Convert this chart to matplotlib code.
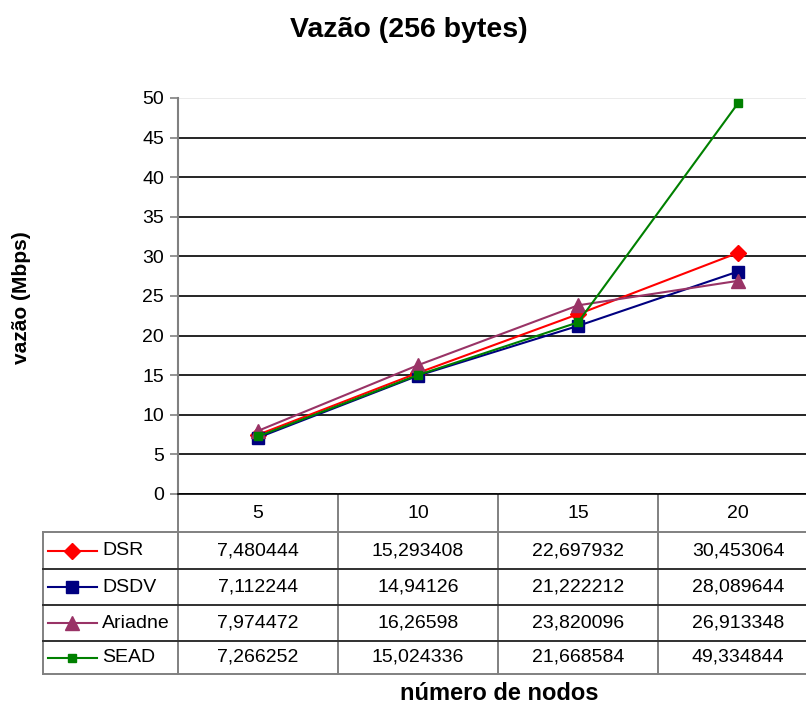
import matplotlib
matplotlib.use("Agg")
import matplotlib.pyplot as plt

plt.rcParams['font.family'] = ['Liberation Sans', 'DejaVu Sans']

nodos = [5, 10, 15, 20]
dsr = [7.480444, 15.293408, 22.697932, 30.453064]
dsdv = [7.112244, 14.94126, 21.222212, 28.089644]
ariadne = [7.974472, 16.26598, 23.820096, 26.913348]
sead = [7.266252, 15.024336, 21.668584, 49.334844]

series = [
    ("DSR", dsr, '#ff0000', 'D', 8),
    ("DSDV", dsdv, '#000080', 's', 8),
    ("Ariadne", ariadne, '#993366', '^', 9.5),
    ("SEAD", sead, '#008000', 's', 6),
]

W, H = 806, 706
fig = plt.figure(figsize=(W / 100, H / 100), dpi=100)
# plot area runs past the right edge of the figure, like the original sheet
ax = fig.add_axes([178 / W, (H - 494) / H, 640 / W, 396 / H])

xs = list(range(len(nodos)))
for name, vals, color, marker, ms in series:
    ax.plot(xs, vals, color=color, linewidth=1.5, marker=marker, markersize=ms,
            markerfacecolor=color, markeredgecolor=color, clip_on=False, zorder=3)

ax.set_xlim(-0.5, 3.5)
ax.set_ylim(0, 50)
ax.set_yticks(range(0, 51, 5))
ax.set_xticks([])
ax.tick_params(axis='y', direction='out', length=6, width=1.2, color='#808080',
               labelsize=14, pad=4)
ax.grid(axis='y', color='black', linewidth=1.2)
ax.get_ygridlines()[-1].set_color('#e8e8e8')
ax.set_axisbelow(True)
for side in ('top', 'right'):
    ax.spines[side].set_visible(False)
ax.spines['left'].set_color('#808080')
ax.spines['left'].set_linewidth(1.5)
ax.spines['bottom'].set_color('black')
ax.spines['bottom'].set_linewidth(1.2)

# data table below the plot (x in data units, y in axes fraction)
tr = ax.get_xaxis_transform()


def ya(px):
    return (494 - px) / 396


left = -0.5 - 135 / 160
row_lines = [532, 569, 605, 641, 674]
grid_kw = dict(transform=tr, clip_on=False, color='#808080', linewidth=1.4)
ax.plot([-0.5, -0.5], [0, ya(674)], **grid_kw)
for b in (0.5, 1.5, 2.5, 3.5):
    ax.plot([b, b], [0, ya(674)], **grid_kw)
ax.plot([left, left], [ya(532), ya(674)], **grid_kw)
for i, p in enumerate(row_lines):
    c = '#808080' if i in (0, len(row_lines) - 1) else '#303030'
    ax.plot([left, 3.5], [ya(p), ya(p)], transform=tr, clip_on=False,
            color=c, linewidth=1.4)

for x, n in zip(xs, nodos):
    ax.text(x, ya(513), str(n), transform=tr, ha='center', va='center', fontsize=14)

row_mid = [550.5, 587, 623, 657.5]
for (name, vals, color, marker, ms), p in zip(series, row_mid):
    y = ya(p)
    kx0 = -0.5 - 130 / 160
    kx1 = -0.5 - 81 / 160
    ax.plot([kx0, kx1], [y, y], color=color, linewidth=1.5, transform=tr, clip_on=False)
    ax.plot([(kx0 + kx1) / 2], [y], color=color, marker=marker, markersize=ms,
            transform=tr, clip_on=False)
    ax.text(-0.5 - 76 / 160, y, name, transform=tr, ha='left', va='center', fontsize=14)
    for x, v in zip(xs, vals):
        ax.text(x, y, str(v).replace('.', ','), transform=tr, ha='center',
                va='center', fontsize=14)

fig.text(409 / W, 1 - 37 / H, "Vazão (256 bytes)", ha='center', va='baseline',
         fontsize=20.5, fontweight='bold')
fig.text(22 / W, (H - 298) / H, "vazão (Mbps)", ha='center', va='center',
         rotation=90, fontsize=15, fontweight='bold')
fig.text(499 / W, 1 - 700 / H, "número de nodos", ha='center', va='baseline',
         fontsize=17, fontweight='bold')

fig.savefig("out.png", dpi=100)
